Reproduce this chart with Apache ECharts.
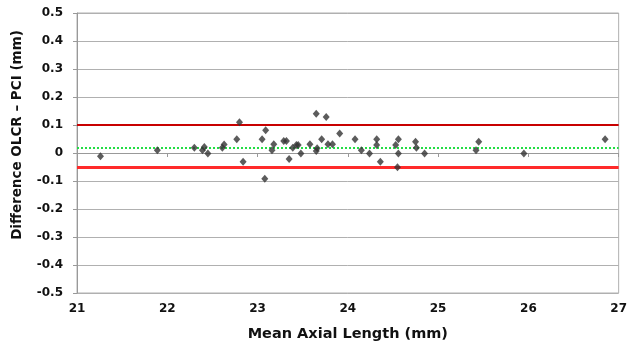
<!DOCTYPE html>
<html><head><meta charset="utf-8">
<script src="https://cdn.jsdelivr.net/npm/echarts@6/dist/echarts.min.js"></script>
<style>html,body{margin:0;padding:0;background:#fff}#c{width:630px;height:350px}</style>
</head><body><div id="c"></div>
<script>
// Mean axial length (mm)
const meanAxial = [21.26,21.89,22.30,22.39,22.41,22.45,22.61,22.63,22.77,22.80,22.84,
  23.05,23.09,23.08,23.16,23.18,23.29,23.32,23.35,23.39,23.43,23.45,23.48,23.58,23.65,23.66,23.65,
  23.71,23.76,23.78,23.83,23.91,24.08,24.15,24.24,24.32,24.32,24.36,24.53,24.56,24.56,24.55,
  24.75,24.76,24.85,25.42,25.45,25.95,26.85];
// Difference OLCR - PCI (mm)
const difference = [-0.012,0.010,0.019,0.010,0.021,-0.002,0.019,0.030,0.049,0.110,-0.031,
  0.049,0.081,-0.092,0.010,0.031,0.043,0.043,-0.021,0.019,0.029,0.029,-0.002,0.031,0.140,0.017,0.007,
  0.049,0.129,0.031,0.031,0.070,0.049,0.010,-0.002,0.049,0.029,-0.031,0.029,0.049,-0.002,-0.051,
  0.040,0.019,-0.002,0.010,0.040,-0.002,0.049];
const upperLimit = 0.10;
const meanDiff = 0.018;
const lowerLimit = -0.052;
const xTicks = {min:21, max:27, interval:1};
const yTicks = {min:-0.5, max:0.5, interval:0.1};

const pts = meanAxial.map((x,i)=>[x,difference[i]]);
const chart = echarts.init(document.getElementById('c'));
const font = '"DejaVu Sans", Verdana, sans-serif';
chart.setOption({
  animation:false,
  grid:{left:77,right:9,top:13,bottom:57,show:true,borderColor:'#b0b0b0',borderWidth:1},
  xAxis:{type:'value',min:xTicks.min,max:xTicks.max,interval:xTicks.interval,
    name:'Mean Axial Length (mm)',nameLocation:'middle',nameGap:34,
    nameTextStyle:{fontFamily:font,fontWeight:'bold',fontSize:14.5,color:'#111'},
    axisLine:{lineStyle:{color:'#999'}},axisTick:{show:true,length:4,lineStyle:{color:'#999'}},
    splitLine:{show:false},
    axisLabel:{fontFamily:font,fontWeight:'bold',fontSize:12,color:'#111',margin:10}},
  yAxis:{type:'value',min:yTicks.min,max:yTicks.max,interval:yTicks.interval,
    axisLine:{show:true,lineStyle:{color:'#999'}},axisTick:{show:true,length:4,lineStyle:{color:'#999'}},
    splitLine:{lineStyle:{color:'#b0b0b0',width:1}},
    axisLabel:{fontFamily:font,fontWeight:'bold',fontSize:12,color:'#111',margin:14,
      formatter:v=>{const r=Math.round(v*10)/10; return r===0?'0':String(r);}}},
  graphic:[{type:'text',rotation:Math.PI/2,x:17,y:135,
    style:{text:'Difference OLCR – PCI (mm)',font:'bold 13.5px '+font,fill:'#111',
      textAlign:'center',textVerticalAlign:'middle'}}],
  series:[{type:'scatter',data:pts,symbol:'diamond',symbolSize:[7,8],
    itemStyle:{color:'#333333'},z:5,
    markLine:{silent:true,symbol:'none',label:{show:false},animation:false,
      data:[
        {yAxis:upperLimit,lineStyle:{color:'#c80000',width:2,type:'solid'}},
        {yAxis:lowerLimit,lineStyle:{color:'#ff2a2a',width:3,type:'solid'}},
        {yAxis:meanDiff,lineStyle:{color:'#22dd44',width:2,type:[2,2]}}
      ]}}]
});
</script></body></html>
